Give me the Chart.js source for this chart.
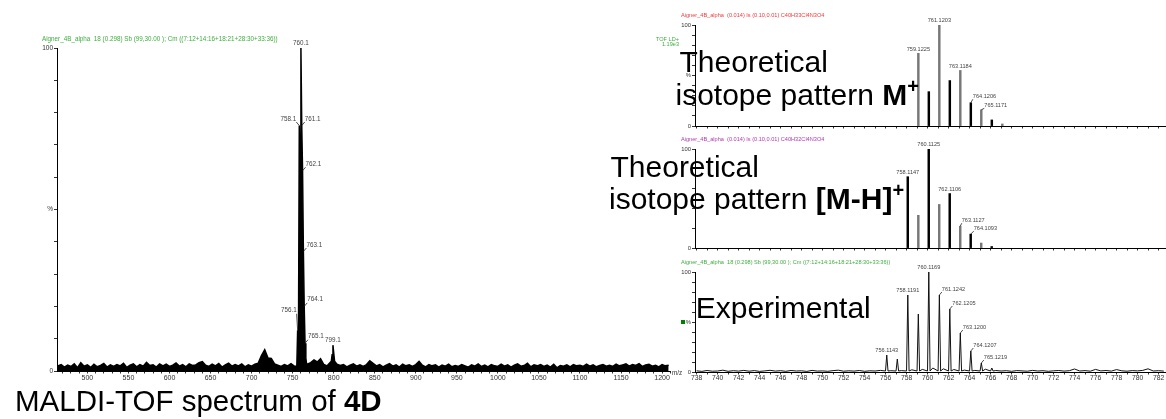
<!DOCTYPE html>
<html>
<head>
<meta charset="utf-8">
<title>MALDI-TOF spectrum of 4D</title>
<script src="https://cdn.jsdelivr.net/npm/chart.js@4.4.1/dist/chart.umd.min.js"></script>
<style>
  html, body { margin: 0; padding: 0; background: #fff; }
  body { width: 1166px; height: 419px; position: relative; overflow: hidden; }
  canvas { position: absolute; }
  #survey { left: 0; top: 0; }
  #isoM { left: 600px; top: 0; }
  #isoMH { left: 600px; top: 130px; }
  #expt { left: 600px; top: 250px; }
</style>
</head>
<body>
<canvas id="survey" width="700" height="419"></canvas>
<canvas id="isoM" width="566" height="140"></canvas>
<canvas id="isoMH" width="566" height="130"></canvas>
<canvas id="expt" width="566" height="150"></canvas>
<script>
const SANS = '"Liberation Sans", Arial, Helvetica, sans-serif';
Chart.defaults.font.family = SANS;

// Survey spectrum: baseline sampled every 4 Da from m/z 464
const surveyStart = 464;
const surveyStep = 4;
const surveyNoise = [
  1.6, 2.0, 1.2, 1.8, 1.4, 2.2, 1.0, 2.6, 1.5, 1.9,   // 464-500
  1.1, 2.1, 1.3, 1.7, 2.3, 1.2, 1.9, 1.4, 2.0, 1.6,   // 504-540
  2.4, 1.1, 1.8, 2.2, 1.3, 2.0, 1.5, 2.7, 1.7, 1.9,   // 544-580
  1.2, 2.2, 1.6, 2.1, 1.4, 1.8, 2.5, 1.5, 2.0, 1.3,   // 584-620
  2.2, 1.7, 1.9, 2.6, 2.9, 1.8, 1.4, 2.1, 1.6, 2.3,   // 624-660
  1.2, 1.9, 2.4, 1.5, 2.0, 1.6, 2.2, 1.3, 1.9, 1.5,   // 664-700
  2.1, 2.4, 4.8, 6.6, 4.0, 3.9, 2.2, 1.8, 1.4, 2.0,   // 704-740
  1.6, 2.3, 1.5, 1.5, 1.5, 1.5, 1.8, 2.6, 3.4, 2.8,   // 744-780
  3.8, 2.0, 1.6, 2.2, 2.0, 2.1, 1.7, 2.0, 1.3, 1.8,   // 784-820
  2.2, 1.5, 1.9, 1.4, 2.0, 3.2, 2.4, 1.6, 2.0, 1.3,   // 824-860
  1.8, 2.3, 1.5, 1.9, 1.2, 2.1, 1.6, 1.9, 1.4, 2.0,   // 864-900
  3.0, 1.8, 1.3, 2.0, 1.6, 1.9, 1.2, 1.8, 1.5, 2.1,   // 904-940
  1.3, 1.7, 1.4, 2.0, 1.6, 1.2, 1.9, 1.5, 2.2, 1.4,   // 944-980
  1.8, 1.3, 2.0, 1.6, 1.4, 2.1, 1.5, 1.9, 1.2, 1.8,   // 984-1020
  2.2, 1.5, 1.7, 2.4, 1.3, 1.9, 1.6, 2.0, 1.4, 1.8,   // 1024-1060
  1.2, 2.1, 1.0, 1.7, 1.5, 1.9, 1.3, 2.0, 1.6, 1.8,   // 1064-1100
  1.4, 2.1, 1.5, 1.9, 1.3, 1.7, 2.0, 1.5, 1.8, 1.4,   // 1104-1140
  2.1, 1.6, 1.9, 2.2, 1.5, 2.0, 1.7, 2.3, 1.4, 1.9,   // 1144-1180
  2.1, 1.5, 1.8, 1.3, 2.0, 1.6, 1.8                   // 1184-1208
];
const surveyPeakMz = [755.1, 756.1, 757.1, 758.1, 759.1, 760.1, 761.1, 762.1, 763.1, 764.1, 765.1, 766.1, 767.1,
                      797.1, 798.1, 799.1, 800.1, 801.1];
const surveyPeakInt = [1.5, 12.6, 9, 76, 58, 100, 76, 62, 37, 20, 8.6, 4, 2,
                       3, 5, 8, 5.5, 3];
const surveyLabelled = [756.1, 758.1, 760.1, 761.1, 762.1, 763.1, 764.1, 765.1, 799.1];
const surveyTickLabels = [500, 550, 600, 650, 700, 750, 800, 850, 900, 950, 1000, 1050, 1100, 1150, 1200];

// Theoretical isotope pattern, M+ (C40H33Cl4N3O4)
const isoMMz = [759.1225, 760.12, 761.1203, 762.12, 763.1184, 764.1206, 765.1171, 766.12, 767.12];
const isoMInt = [72, 34, 100, 45, 55, 23, 16, 6, 2];
const isoMLabelled = [759.1225, 761.1203, 763.1184, 764.1206, 765.1171];

// Theoretical isotope pattern, [M-H]+ (C40H32Cl4N3O4)
const isoMHMz = [758.1147, 759.12, 760.1125, 761.11, 762.1106, 763.1127, 764.1093, 765.11, 766.11];
const isoMHInt = [72, 33, 100, 44, 55, 22, 14, 5, 1.5];
const isoMHLabelled = [758.1147, 760.1125, 762.1106, 763.1127, 764.1093];

// Experimental profile around the molecular ion, baseline every 0.5 Da from m/z 738
const exptStart = 738;
const exptStep = 0.5;
const exptNoise = [
  1.2, 0.6, 1.5, 0.8, 1.0, 1.8, 0.7, 1.3, 0.9, 1.6,   // 738-742.5
  0.8, 1.4, 0.6, 1.1, 1.7, 0.9, 1.3, 0.7, 1.5, 1.0,   // 743-747.5
  1.2, 0.6, 1.6, 0.9, 1.1, 0.7, 1.4, 1.8, 0.8, 1.2,   // 748-752.5
  0.9, 1.5, 0.7, 1.2, 1.0, 1.6, 0.8, 1.3, 1.9, 1.4,   // 753-757.5
  1.1, 2.2, 1.3, 2.6, 1.5, 4.0, 1.8, 3.2, 1.4, 2.5,   // 758-762.5
  1.2, 1.9, 0.9, 1.6, 1.1, 2.8, 0.8, 1.5, 1.0, 1.3,   // 763-767.5
  0.7, 1.4, 1.1, 0.8, 1.6, 1.0, 1.3, 0.7, 1.2, 1.5,   // 768-772.5
  0.9, 1.3, 3.0, 1.0, 1.4, 0.8, 2.6, 1.1, 1.5, 0.9,   // 773-777.5
  2.4, 1.2, 0.8, 1.4, 1.1, 1.6, 3.2, 1.0, 1.3, 0.9    // 778-782.5
];
const exptPeakMz = [756.1143, 757.12, 758.1191, 759.12, 760.1169, 761.1242, 762.1205, 763.1200, 764.1207, 765.1219, 766.12];
const exptPeakInt = [17, 13, 77, 58, 100, 77, 63, 39, 21, 9, 4];
const exptLabelled = [756.1143, 758.1191, 760.1169, 761.1242, 762.1205, 763.1200, 764.1207, 765.1219];
const zoomTickLabels = [738, 740, 742, 744, 746, 748, 750, 752, 754, 756, 758, 760,
                        762, 764, 766, 768, 770, 772, 774, 776, 778, 780, 782];

// label placement: [dx, dy] from the peak top, a leader line is drawn when dx != 0
const surveyLabelOffsets = {
  '758.1': [-3, -3.5], '761.1': [3, -3.5], '762.1': [3, -3.5], '763.1': [3, -3.5],
  '764.1': [3, -3.5], '765.1': [3, -3.5], '756.1': [-1, -16.5]
};
const isoMLabelOffsets = { '764.1206': [2, -3.5], '765.1171': [3, -1.5] };
const isoMHLabelOffsets = { '763.1127': [1.5, -3], '764.1093': [3, -3] };
const exptLabelOffsets = {
  '761.1242': [2.5, -3], '762.1205': [2.5, -3], '763.1200': [2.5, -3],
  '764.1207': [2.5, -3], '765.1219': [2.5, -3]
};

// merge baseline samples and peaks into one sorted profile
function buildProfile(start, step, noise, peakMz, peakInt, gap, halfWidth, foot) {
  const pts = [];
  noise.forEach((v, i) => {
    const mz = start + i * step;
    if (peakMz.some(p => Math.abs(p - mz) < gap)) return;
    pts.push({ x: mz, y: v });
  });
  peakMz.forEach((mz, i) => {
    if (halfWidth) {
      pts.push({ x: mz - halfWidth, y: foot });
      pts.push({ x: mz + halfWidth, y: foot });
    }
    pts.push({ x: mz, y: peakInt[i] });
  });
  return pts.sort((a, b) => a.x - b.x);
}

function sticks(mzList, intList) {
  return {
    data: mzList.map((mz, i) => ({ x: mz, y: intList[i] })),
    backgroundColor: mzList.map(mz => Math.round(mz) % 2 ? '#777' : '#000'),
    barThickness: 1.8,
    grouped: false
  };
}

function intensityAxis(width, size) {
  return {
    min: 0, max: 100,
    afterFit: s => { s.width = width; s.paddingTop = 0; s.paddingBottom = 0; },
    border: { display: true, color: '#000', width: 1 },
    grid: { drawOnChartArea: false, tickLength: 3, color: '#000', lineWidth: 0.8 },
    ticks: {
      stepSize: 10, padding: 1, color: '#333', font: { size },
      callback: v => v === 100 ? '100' : v === 50 ? '%' : v === 0 ? '0' : ''
    }
  };
}

function massAxis(min, max, marks, labels, height, size) {
  return {
    type: 'linear', min, max, offset: false,
    afterFit: s => { s.height = height; s.paddingLeft = 0; s.paddingRight = 0; },
    afterBuildTicks: s => { s.ticks = marks.map(v => ({ value: v })); },
    border: { display: true, color: '#000', width: 1 },
    grid: { drawOnChartArea: false, tickLength: 2.5, color: '#000', lineWidth: 0.8, offset: false },
    ticks: {
      autoSkip: false, maxRotation: 0, padding: 0, color: '#333', font: { size },
      callback: v => labels.includes(v) ? String(v) : ''
    }
  };
}

function put(ctx, str, x, y, size, color, align) {
  ctx.save();
  ctx.font = size + 'px ' + SANS;
  ctx.fillStyle = color;
  ctx.textAlign = align || 'left';
  ctx.textBaseline = 'middle';
  ctx.fillText(str, x, y);
  ctx.restore();
}

// large annotation text made of runs: [text, weight, size, rise]
function putRuns(ctx, x, y, parts) {
  ctx.save();
  ctx.fillStyle = '#000';
  ctx.textBaseline = 'alphabetic';
  ctx.textAlign = 'left';
  parts.forEach(([str, weight, size, rise]) => {
    ctx.font = weight + ' ' + size + 'px ' + SANS;
    ctx.fillText(str, x, y - (rise || 0));
    x += ctx.measureText(str).width;
  });
  ctx.restore();
}

function drawPeakLabels(chart, mzList, intList, labelled, digits, offsets, size) {
  const ctx = chart.ctx, xs = chart.scales.x, ys = chart.scales.y;
  ctx.save();
  ctx.font = size + 'px ' + SANS;
  ctx.fillStyle = '#444';
  ctx.strokeStyle = '#222';
  ctx.lineWidth = 0.8;
  ctx.textBaseline = 'bottom';
  labelled.forEach(mz => {
    const i = mzList.indexOf(mz);
    const text = mz.toFixed(digits);
    const px = xs.getPixelForValue(mz);
    const top = ys.getPixelForValue(intList[i]);
    const [dx, dy] = offsets[text] || [0, -1.5];
    const tx = px + dx, ty = top + dy;
    ctx.textAlign = dx > 0 ? 'left' : dx < 0 ? 'right' : 'center';
    ctx.fillText(text, tx, ty);
    if (dx !== 0) {
      ctx.beginPath();
      ctx.moveTo(tx, ty);
      ctx.lineTo(px, top);
      ctx.stroke();
    }
  });
  ctx.restore();
}

function spectrumChart(id, type, dataset, xAxis, yAxis, padding, decorate) {
  return new Chart(document.getElementById(id), {
    type,
    data: { datasets: [dataset] },
    options: {
      responsive: false, animation: false, devicePixelRatio: 1, events: [],
      layout: { padding },
      plugins: { legend: { display: false }, tooltip: { enabled: false } },
      scales: { x: xAxis, y: yAxis }
    },
    plugins: [{ id: 'decor', afterDraw: decorate }]
  });
}

// ---- survey spectrum ----
const surveyMarks = [];
for (let m = 470; m <= 1210; m += 10) surveyMarks.push(m);

spectrumChart('survey', 'line', {
    data: buildProfile(surveyStart, surveyStep, surveyNoise, surveyPeakMz, surveyPeakInt, 1.2, 0, 0),
    borderColor: '#000', backgroundColor: '#000', borderWidth: 1.5,
    fill: 'origin', pointRadius: 0, tension: 0
  },
  massAxis(463, 1210, surveyMarks, surveyTickLabels, 14, 7),
  intensityAxis(22, 6.5),
  { left: 35, right: 29.7, top: 48, bottom: 34 },
  chart => {
    const ctx = chart.ctx;
    drawPeakLabels(chart, surveyPeakMz, surveyPeakInt, surveyLabelled, 1, surveyLabelOffsets, 6.3);
    put(ctx, 'Aigner_4B_alpha  18 (0.298) Sb (99,30.00 ); Cm ((7:12+14:16+18:21+28:30+33:36))', 42, 39, 6.3, '#3fae3f');
    put(ctx, 'm/z', 672, 373, 6.3, '#333');
    putRuns(ctx, 15, 411, [['MALDI-TOF spectrum of ', 'normal', 29.5], ['4D', 'bold', 29.5]]);
  });

// ---- zoomed panels ----
const zoomMarks = [];
for (let m = 738; m <= 782; m++) zoomMarks.push(m);
const ZOOM_MIN = 737.85, ZOOM_MAX = 782.71;

spectrumChart('isoM', 'bar', sticks(isoMMz, isoMInt),
  massAxis(ZOOM_MIN, ZOOM_MAX, zoomMarks, [], 6, 6.8),
  intensityAxis(22, 5.8),
  { left: 73, right: 0, top: 25, bottom: 8 },
  chart => {
    const ctx = chart.ctx;
    drawPeakLabels(chart, isoMMz, isoMInt, isoMLabelled, 4, isoMLabelOffsets, 5.6);
    put(ctx, 'Aigner_4B_alpha  (0.014) Is (0.10,0.01) C40H33Cl4N3O4', 81, 15, 5.6, '#ee3b3b');
    put(ctx, 'TOF LD+', 79, 39, 5.6, '#3fae3f', 'right');
    put(ctx, '1.19e3', 79, 44.5, 5.6, '#3fae3f', 'right');
    putRuns(ctx, 79.5, 72, [['Theoretical', 'normal', 30]]);
    putRuns(ctx, 75.5, 105, [['isotope pattern ', 'normal', 30], ['M', 'bold', 30], ['+', 'bold', 20, 12]]);
  });

spectrumChart('isoMH', 'bar', sticks(isoMHMz, isoMHInt),
  massAxis(ZOOM_MIN, ZOOM_MAX, zoomMarks, [], 6, 6.8),
  intensityAxis(22, 5.8),
  { left: 73, right: 0, top: 19, bottom: 6 },
  chart => {
    const ctx = chart.ctx;
    drawPeakLabels(chart, isoMHMz, isoMHInt, isoMHLabelled, 4, isoMHLabelOffsets, 5.6);
    put(ctx, 'Aigner_4B_alpha  (0.014) Is (0.10,0.01) C40H32Cl4N3O4', 81, 9, 5.6, '#b03ab0');
    putRuns(ctx, 10.5, 47, [['Theoretical', 'normal', 30]]);
    putRuns(ctx, 9, 79, [['isotope pattern ', 'normal', 30], ['[M-H]', 'bold', 30], ['+', 'bold', 20, 12]]);
  });

spectrumChart('expt', 'line', {
    data: buildProfile(exptStart, exptStep, exptNoise, exptPeakMz, exptPeakInt, 0.2, 0.12, 1.0),
    borderColor: '#111', borderWidth: 1, fill: false, pointRadius: 0, tension: 0
  },
  massAxis(ZOOM_MIN, ZOOM_MAX, zoomMarks, zoomTickLabels, 14, 6.8),
  intensityAxis(22, 5.8),
  { left: 73, right: 0, top: 22, bottom: 14 },
  chart => {
    const ctx = chart.ctx;
    drawPeakLabels(chart, exptPeakMz, exptPeakInt, exptLabelled, 4, exptLabelOffsets, 5.6);
    put(ctx, 'Aigner_4B_alpha  18 (0.298) Sb (99,30.00 ); Cm ((7:12+14:16+18:21+28:30+33:36))', 81, 12, 5.6, '#3fae3f');
    ctx.save();
    ctx.fillStyle = '#008000';
    ctx.fillRect(81, 70, 4, 4);
    ctx.restore();
    putRuns(ctx, 95.7, 68, [['Experimental', 'normal', 30]]);
  });
</script>
</body>
</html>
